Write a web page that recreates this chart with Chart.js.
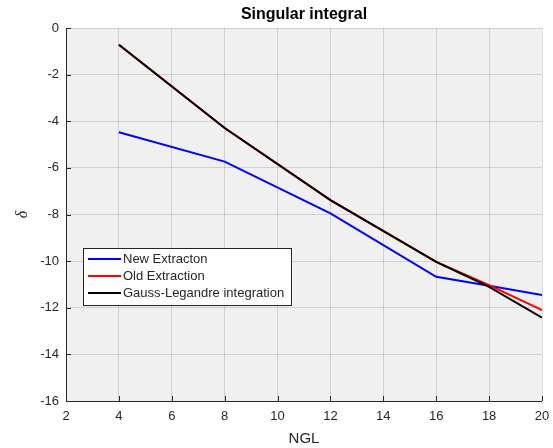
<!DOCTYPE html>
<html>
<head>
<meta charset="utf-8">
<script src="https://cdn.jsdelivr.net/npm/chart.js@4"></script>
<style>
html,body{margin:0;padding:0;background:#fff;}
#wrap{width:553px;height:448px;position:relative;}
</style>
</head>
<body>
<div id="wrap"><canvas id="c" width="553" height="448"></canvas></div>
<script>
const ngl = [4, 8, 12, 16, 18, 20];
const newExtraction = [-4.47, -5.73, -7.95, -10.67, -11.06, -11.45];
const oldExtraction = [-0.72, -4.29, -7.38, -10.03, -11.03, -12.10];
const gaussLegendre = [-0.72, -4.29, -7.38, -10.03, -11.10, -12.42];
const xTicks = [2, 4, 6, 8, 10, 12, 14, 16, 18, 20];
const yTicks = [-16, -14, -12, -10, -8, -6, -4, -2, 0];
const seriesLabels = ['New Extracton', 'Old Extraction', 'Gauss-Legandre integration'];
const seriesColors = ['#0000ff', '#ff0000', '#000000'];

const FONT = "'Liberation Sans', Arial, Helvetica, sans-serif";
const toPts = ys => ngl.map((x, i) => ({x: x, y: ys[i]}));

const bgPlugin = {
  id: 'bg',
  beforeDraw(chart) {
    const a = chart.chartArea, ctx = chart.ctx;
    ctx.save();
    ctx.fillStyle = '#f0f0f0';
    ctx.fillRect(a.left, a.top, a.right - a.left, a.bottom - a.top);
    ctx.restore();
  },
  afterDraw(chart) {
    const a = chart.chartArea, ctx = chart.ctx;
    const xs = chart.scales.x, ys = chart.scales.y;
    ctx.save();
    ctx.strokeStyle = '#262626';
    ctx.lineWidth = 1;
    ctx.beginPath();
    ctx.moveTo(a.left + 0.5, a.top);
    ctx.lineTo(a.left + 0.5, a.bottom + 0.5);
    ctx.lineTo(a.right, a.bottom + 0.5);
    ctx.stroke();
    ctx.beginPath();
    xTicks.forEach(v => {
      const px = Math.round(xs.getPixelForValue(v)) + 0.5;
      ctx.moveTo(px, a.bottom);
      ctx.lineTo(px, a.bottom - 5);
    });
    yTicks.forEach(v => {
      const py = Math.round(ys.getPixelForValue(v)) + 0.5;
      ctx.moveTo(a.left, py);
      ctx.lineTo(a.left + 5, py);
    });
    ctx.stroke();
    ctx.fillStyle = '#000';
    ctx.font = 'bold 16px ' + FONT;
    ctx.textAlign = 'center';
    ctx.textBaseline = 'middle';
    ctx.fillText('Singular integral', (a.left + a.right) / 2, 15);
    const lx = 83.5, ly = 248.5, lw = 208, lh = 57;
    ctx.fillStyle = '#ffffff';
    ctx.fillRect(lx, ly, lw, lh);
    ctx.strokeStyle = '#262626';
    ctx.lineWidth = 1;
    ctx.strokeRect(lx, ly, lw, lh);
    const rows = [259, 276, 293];
    ctx.font = '13px ' + FONT;
    ctx.textAlign = 'left';
    chart.data.datasets.forEach((d, i) => {
      ctx.strokeStyle = d.borderColor;
      ctx.lineWidth = 2;
      ctx.beginPath();
      ctx.moveTo(88, rows[i]);
      ctx.lineTo(121, rows[i]);
      ctx.stroke();
      ctx.fillStyle = '#262626';
      ctx.fillText(d.label, 123, rows[i] + 0.5);
    });
    ctx.restore();
  }
};

new Chart(document.getElementById('c'), {
  type: 'line',
  data: {
    datasets: [
      {label: seriesLabels[0], data: toPts(newExtraction), borderColor: seriesColors[0], order: 3},
      {label: seriesLabels[1], data: toPts(oldExtraction), borderColor: seriesColors[1], order: 2},
      {label: seriesLabels[2], data: toPts(gaussLegendre), borderColor: seriesColors[2], order: 1}
    ].map(d => Object.assign(d, {borderWidth: 2, pointRadius: 0, fill: false, tension: 0}))
  },
  options: {
    responsive: false,
    animation: false,
    devicePixelRatio: 1,
    layout: {padding: {top: 28, right: 11, left: 0, bottom: 0}},
    plugins: {legend: {display: false}, title: {display: false}, tooltip: {enabled: false}},
    scales: {
      x: {
        type: 'linear', min: 2, max: 20,
        afterBuildTicks: s => { s.ticks = xTicks.map(v => ({value: v})); },
        afterFit: s => { s.height = 47; s.paddingLeft = 0; s.paddingRight = 0; },
        grid: {color: 'rgba(0,0,0,0.13)', drawTicks: false, lineWidth: 1},
        border: {display: false},
        ticks: {color: '#262626', font: {family: FONT, size: 13}, padding: 8, maxRotation: 0, autoSkip: false},
        title: {display: true, text: 'NGL', color: '#262626', font: {family: FONT, size: 15}, padding: {top: 0, bottom: 0}}
      },
      y: {
        type: 'linear', min: -16, max: 0,
        afterBuildTicks: s => { s.ticks = yTicks.map(v => ({value: v})); },
        afterFit: s => { s.width = 66; s.paddingTop = 0; s.paddingBottom = 0; },
        grid: {color: 'rgba(0,0,0,0.13)', drawTicks: false, lineWidth: 1},
        border: {display: false},
        ticks: {color: '#262626', font: {family: FONT, size: 13}, padding: 7, autoSkip: false},
        title: {display: true, text: 'δ', color: '#262626', font: {family: "'Liberation Serif', 'DejaVu Serif', serif", size: 16, style: 'italic'}, padding: {top: 13, bottom: 0}}
      }
    }
  },
  plugins: [bgPlugin]
});
</script>
</body>
</html>
